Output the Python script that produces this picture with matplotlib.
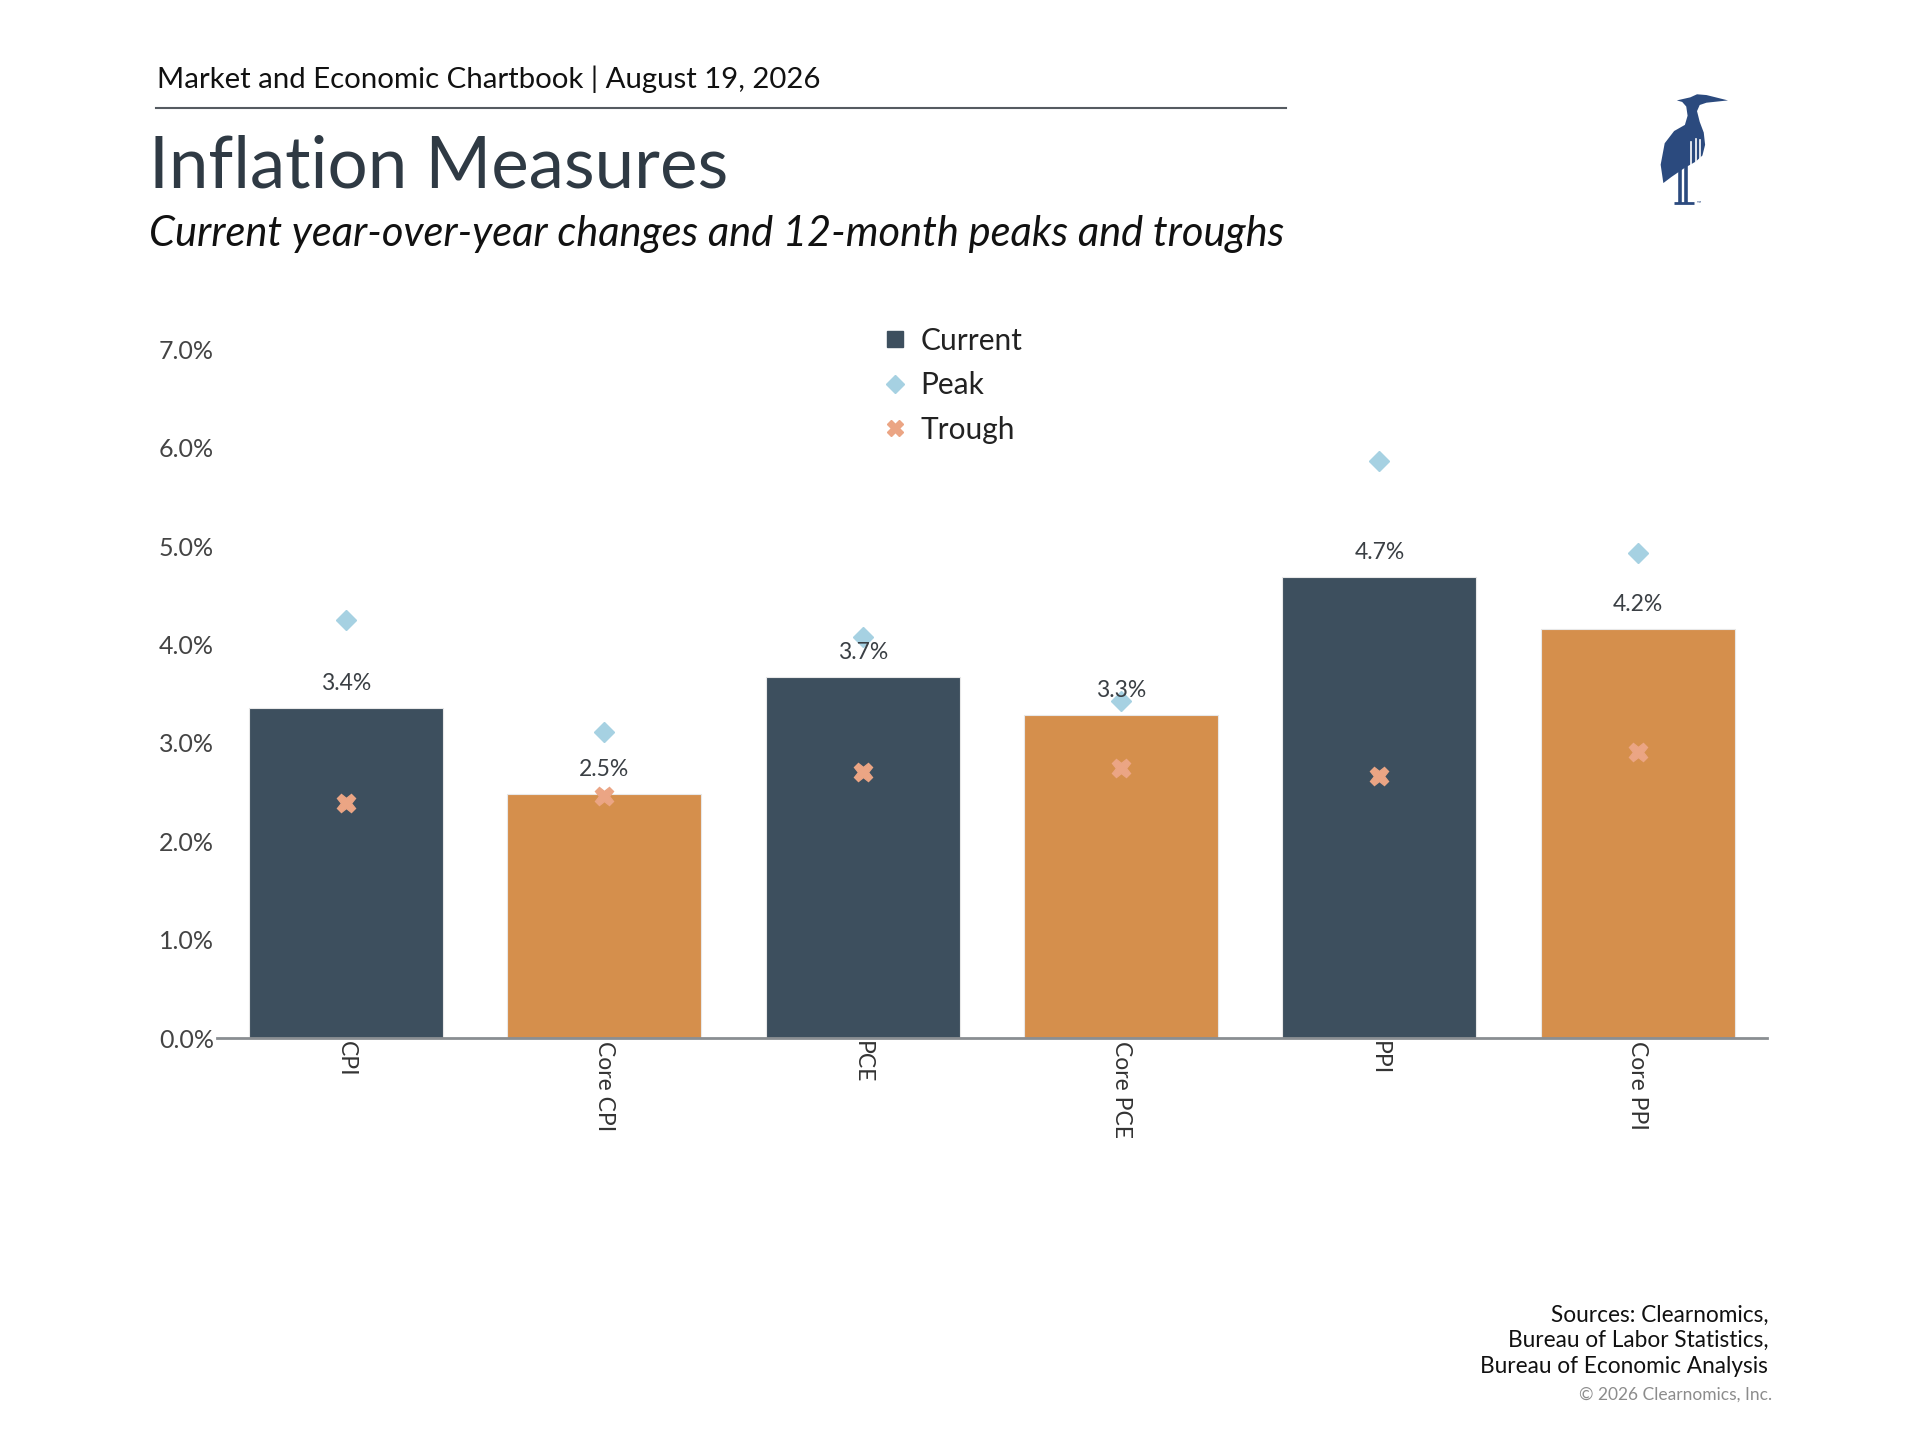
import numpy as np
import matplotlib.pyplot as plt
from matplotlib.patches import Polygon

plt.rcParams['font.family'] = ['Lato', 'DejaVu Sans']

# data
categories = ['CPI', 'Core CPI', 'PCE', 'Core PCE', 'PPI', 'Core PPI']
current = [3.36, 2.48, 3.67, 3.28, 4.69, 4.16]
peak = [4.25, 3.11, 4.08, 3.43, 5.86, 4.93]
trough = [2.39, 2.46, 2.71, 2.75, 2.66, 2.91]
yticks = [0, 1, 2, 3, 4, 5, 6, 7]

dark = '#3D4F5E'
orange = '#D58F4C'
peak_color = '#A6D1E2'
trough_color = '#EBA584'
bar_colors = [dark, orange] * 3

W, H = 1568, 1176  # layout measured in these units
fig = plt.figure(figsize=(19.2, 14.4), dpi=100)

# header
fig.text(128 / W, 1 - 65 / H, 'Market and Economic Chartbook | August 19, 2026',
         fontsize=21.2, color='#111111', va='center', ha='left')
fig.add_artist(plt.Line2D([127 / W, 1050 / W], [1 - 88 / H, 1 - 88 / H],
                          color='#555b61', linewidth=1.5))
fig.text(122 / W, 1 - 153 / H, 'Inflation Measures', fontsize=51,
         color='#2F3A44', va='baseline', ha='left')
fig.text(122 / W, 1 - 201 / H,
         'Current year-over-year changes and 12-month peaks and troughs',
         fontsize=30, style='italic', color='#111111', va='baseline', ha='left')

# chart
ax = fig.add_axes([177 / W, 1 - 848 / H, (1443 - 177) / W, (848 - 269) / H])
x = np.arange(len(categories))
bars = ax.bar(x, current, width=0.75, color=bar_colors, edgecolor='#e8e8e8',
              linewidth=0.8, zorder=2)
for xi, v in zip(x, current):
    ax.annotate(f'{v:.1f}%', (xi, v), xytext=(0, 10), textcoords='offset points',
                ha='center', va='bottom', fontsize=16.5, color='#3a3f44', zorder=4)
ax.plot(x, peak, linestyle='None', marker='D', markersize=10,
        color=peak_color, zorder=3)
ax.plot(x, trough, linestyle='None', marker='X', markersize=13,
        color=trough_color, zorder=3)

ax.set_xlim(-0.5, 5.5)
ax.set_ylim(0, 7.2)
ax.set_yticks(yticks)
ax.set_yticklabels([f'{t:.1f}%' for t in yticks])
ax.set_xticks(x)
ax.set_xticklabels(categories, rotation=270, ha='center', va='top')
ax.tick_params(axis='y', length=0, pad=2, labelsize=18, labelcolor='#444444')
ax.tick_params(axis='x', length=0, pad=2, labelsize=16.5, labelcolor='#333333')
for s in ['top', 'right', 'left']:
    ax.spines[s].set_visible(False)
ax.spines['bottom'].set_color('#8a8e92')
ax.spines['bottom'].set_linewidth(2)
ax.set_facecolor('none')

# legend
handles = [
    plt.Line2D([], [], linestyle='None', marker='s', markersize=11, color=dark),
    plt.Line2D([], [], linestyle='None', marker='D', markersize=9, color=peak_color),
    plt.Line2D([], [], linestyle='None', marker='X', markersize=11, color=trough_color),
]
fig.legend(handles, ['Current', 'Peak', 'Trough'], loc='upper left',
           bbox_to_anchor=(697 / W, 1 - 245 / H), frameon=False, fontsize=21.5,
           handlelength=1.0, handletextpad=0.35, labelspacing=0.55,
           labelcolor='#222222')

# heron logo
logo = fig.add_axes([1354 / W, 1 - 172 / H, 66 / W, 100 / H])
logo.set_xlim(0, 60)
logo.set_ylim(0, 80)
logo.axis('off')
navy = '#2B4A7E'
body = [(14, 72), (24, 74), (29, 76), (36, 75.5), (52, 72), (36, 70.5),
        (31, 69), (29, 65), (31, 58), (34, 51), (35, 43), (33, 36), (28, 32),
        (20, 28), (10, 22), (4, 18), (2, 30), (5, 44), (12, 52), (20, 56),
        (22, 62), (21, 68), (18, 71)]
logo.add_patch(Polygon(body, closed=True, color=navy, linewidth=0))
for lx in [16, 21]:
    logo.plot([lx, lx], [5, 34], color=navy, linewidth=2.6, solid_capstyle='butt')
logo.plot([12, 27], [5, 5], color=navy, linewidth=2.0, solid_capstyle='butt')
for lx, top in [(24.5, 45), (28, 47), (31, 46)]:
    logo.plot([lx, lx], [24, top], color='white', linewidth=1.2)
logo.text(29, 5, '™', fontsize=4, color=navy, va='center')

# footer
fig.text(1444 / W, 1 - 1074 / H, 'Sources: Clearnomics,', fontsize=16.3,
         ha='right', va='center', color='#111111')
fig.text(1444 / W, 1 - 1095 / H, 'Bureau of Labor Statistics,', fontsize=16.3,
         ha='right', va='center', color='#111111')
fig.text(1444 / W, 1 - 1116 / H, 'Bureau of Economic Analysis', fontsize=16.3,
         ha='right', va='center', color='#111111')
fig.text(1447 / W, 1 - 1139 / H, '© 2026 Clearnomics, Inc.', fontsize=12.5,
         ha='right', va='center', color='#8c8c8c')

fig.savefig('out.png', dpi=100)
